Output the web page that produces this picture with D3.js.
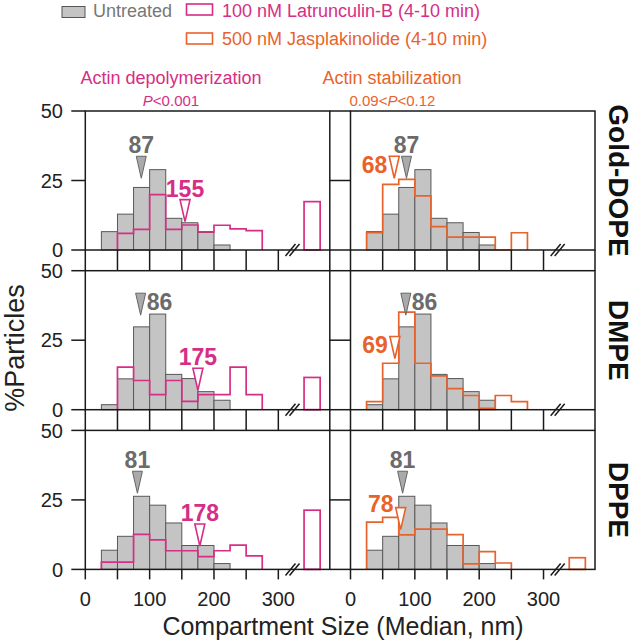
<!DOCTYPE html>
<html lang="en">
<head>
<meta charset="UTF-8">
<script src="https://cdnjs.cloudflare.com/ajax/libs/d3/7.9.0/d3.min.js"></script>
<title>Compartment size histograms</title>
<style>
  body { margin: 0; background: #fff; }
  svg { display: block; font-family: "Liberation Sans", Arial, sans-serif; }
</style>
</head>
<body>
<div id="chart"></div>
<script>
// bins are 25 nm wide, left edges below
const binStarts = [25, 50, 75, 100, 125, 150, 175, 200, 225, 250];
const lipids = ["Gold-DOPE", "DMPE", "DPPE"];

// % particles per bin
const untreatedGold = [6.6, 12.9, 22.5, 28.9, 11.4, 9.8, 6.3, 1.8, 0, 0];
const untreatedDMPE = [1.8, 11.1, 29.8, 34.4, 12.7, 11.2, 6.5, 3.4, 0, 0];
const untreatedDPPE = [6.9, 11.9, 26.3, 23.1, 16.7, 8.6, 8.6, 2.1, 0, 0];

const latrunculinGold = [0, 6.0, 7.4, 19.9, 7.4, 9.0, 6.5, 8.9, 7.6, 7.0];
const latrunculinDMPE = [0, 15.3, 10.5, 5.4, 10.5, 3.0, 5.4, 5.4, 15.3, 5.4];
const latrunculinDPPE = [2.6, 2.6, 12.6, 10.6, 6.7, 6.7, 4.6, 6.7, 8.7, 4.9];

const jasplakinolideGold = [6.2, 23.6, 25.4, 19.5, 8.4, 4.6, 4.6, 4.6, 0, 6.2];
const jasplakinolideDMPE = [2.9, 16.7, 35.1, 16.7, 12.2, 7.6, 5.1, 0.5, 5.1, 2.9];
const jasplakinolideDPPE = [17.0, 18.7, 12.4, 14.5, 14.5, 12.5, 2.0, 6.4, 2.3, 0];

// the bar past the axis break (> 300 nm)
const latrunculinOver = [17.4, 11.6, 21.3];
const jasplakinolideOver = [0, 0, 4.2];

// medians (nm) and the % level the arrow points at
const untreatedMedian = [87, 86, 81];
const latrunculinMedian = [155, 175, 178];
const jasplakinolideMedian = [68, 69, 78];
const untreatedLevel = [25.8, 34, 27.4];
const latrunculinLevel = [10.2, 7.0, 8.4];
const jasplakinolideLevel = [25.8, 18.4, 14.3];

const xTicks = [0, 50, 100, 150, 200, 250, 300];
const xLabels = [0, 100, 200, 300];
const yTicks = [0, 25, 50];

const untreated = [untreatedGold, untreatedDMPE, untreatedDPPE];
const latrunculin = [latrunculinGold, latrunculinDMPE, latrunculinDPPE];
const jasplakinolide = [jasplakinolideGold, jasplakinolideDMPE, jasplakinolideDPPE];

const PINK = "#d62e86";
const ORANGE = "#e8632c";
const GRAYTXT = "#6b6b6b";

const width = 633, height = 642;
const colX = [85.3, 350.5];
const panelW = 244.5;
const rowY = [111, 270.7, 430.4];
const panelH = 139;
const gap = rowY[1] - rowY[0] - panelH;

const svg = d3.select("#chart").append("svg")
  .attr("width", width).attr("height", height);

// legend
const legend = svg.append("g");
legend.append("rect").attr("x", 62).attr("y", 6.5).attr("width", 23).attr("height", 11)
  .attr("fill", "#c4c4c4").attr("stroke", "#555").attr("stroke-width", 1);
legend.append("text").attr("x", 93).attr("y", 17).attr("font-size", 18).attr("fill", "#777")
  .text("Untreated");
legend.append("rect").attr("x", 186.5).attr("y", 4).attr("width", 26).attr("height", 11)
  .attr("fill", "none").attr("stroke", PINK).attr("stroke-width", 1.6);
legend.append("text").attr("x", 222).attr("y", 17).attr("font-size", 18).attr("fill", PINK)
  .text("100 nM Latrunculin-B (4-10 min)");
legend.append("rect").attr("x", 186.5).attr("y", 33).attr("width", 26).attr("height", 11)
  .attr("fill", "none").attr("stroke", ORANGE).attr("stroke-width", 1.6);
legend.append("text").attr("x", 222).attr("y", 45).attr("font-size", 18).attr("fill", ORANGE)
  .text("500 nM Jasplakinolide (4-10 min)");

// column titles
svg.append("text").attr("x", 171).attr("y", 84).attr("text-anchor", "middle")
  .attr("font-size", 18).attr("fill", PINK).text("Actin depolymerization");
const p1 = svg.append("text").attr("x", 171).attr("y", 106).attr("text-anchor", "middle")
  .attr("font-size", 15).attr("fill", PINK);
p1.append("tspan").attr("font-style", "italic").text("P");
p1.append("tspan").text("<0.001");
svg.append("text").attr("x", 392).attr("y", 84).attr("text-anchor", "middle")
  .attr("font-size", 18).attr("fill", ORANGE).text("Actin stabilization");
const p2 = svg.append("text").attr("x", 392.5).attr("y", 106).attr("text-anchor", "middle")
  .attr("font-size", 15).attr("fill", ORANGE);
p2.append("tspan").text("0.09<");
p2.append("tspan").attr("font-style", "italic").text("P");
p2.append("tspan").text("<0.12");

// step outline for a treated histogram
function stepPath(vals, x, y) {
  let first = vals.findIndex(v => v > 0);
  let last = vals.length - 1;
  while (vals[last] === 0) last--;
  const p = d3.path();
  p.moveTo(x(binStarts[first]), y(0));
  for (let i = first; i <= last; i++) {
    p.lineTo(x(binStarts[i]), y(vals[i]));
    p.lineTo(x(binStarts[i] + 25), y(vals[i]));
  }
  p.lineTo(x(binStarts[last] + 25), y(0));
  return p.toString();
}

function marker(g, x, y, median, level, style, place, dy) {
  const tx = x(median), ty = y(level), top = ty - 22;
  g.append("path")
    .attr("d", `M${tx},${ty}L${tx - 5},${top}L${tx + 5},${top}Z`)
    .attr("fill", style.fill).attr("stroke", style.stroke)
    .attr("stroke-width", style.sw).attr("stroke-linejoin", "miter");
  const t = g.append("text").attr("font-size", 23).attr("font-weight", "bold")
    .attr("fill", style.text).text(median);
  if (place === "above") {
    t.attr("x", tx).attr("y", top - 3).attr("text-anchor", "middle");
  } else if (place === "right") {
    t.attr("x", tx + 6).attr("y", top + 16.5).attr("text-anchor", "start");
  } else {
    t.attr("x", tx - 7).attr("y", top + 16.5 + (dy || 0)).attr("text-anchor", "end");
  }
}

const grayStyle = { fill: "#aaaaaa", stroke: "#666", sw: 1, text: GRAYTXT };

lipids.forEach((lipid, r) => {
  [0, 1].forEach(c => {
    const x0 = colX[c], y0 = rowY[r];
    const x = d3.scaleLinear().domain([0, 380]).range([x0, x0 + panelW]);
    const y = d3.scaleLinear().domain([0, 50]).range([y0 + panelH, y0]);
    const g = svg.append("g");
    const color = c === 0 ? PINK : ORANGE;
    const treated = c === 0 ? latrunculin[r] : jasplakinolide[r];
    const over = c === 0 ? latrunculinOver[r] : jasplakinolideOver[r];

    // untreated bars
    g.selectAll("rect.bar").data(binStarts.map((b, i) => [b, untreated[r][i]]).filter(d => d[1] > 0))
      .join("rect").attr("class", "bar")
      .attr("x", d => x(d[0])).attr("width", d => x(d[0] + 25) - x(d[0]))
      .attr("y", d => y(d[1])).attr("height", d => y(0) - y(d[1]))
      .attr("fill", "#c4c4c4").attr("stroke", "#585858").attr("stroke-width", 1);

    // treated outline
    g.append("path").attr("d", stepPath(treated, x, y))
      .attr("fill", "none").attr("stroke", color).attr("stroke-width", 1.7);

    if (over > 0) {
      g.append("rect").attr("x", x(340)).attr("width", x(365) - x(340))
        .attr("y", y(over)).attr("height", y(0) - y(over))
        .attr("fill", "none").attr("stroke", color).attr("stroke-width", 1.7);
    }

    // frame
    g.append("rect").attr("x", x0).attr("y", y0).attr("width", panelW).attr("height", panelH)
      .attr("fill", "none").attr("stroke", "#1a1a1a").attr("stroke-width", 1.5);

    // y ticks
    const tickLen = c === 0 ? 14 : x0 - (colX[0] + panelW);
    g.selectAll("line.yt").data(yTicks).join("line").attr("class", "yt")
      .attr("x1", x0 - tickLen).attr("x2", x0)
      .attr("y1", d => y(d)).attr("y2", d => y(d))
      .attr("stroke", "#1a1a1a").attr("stroke-width", 1.5);
    if (c === 0) {
      g.selectAll("text.yl").data(yTicks).join("text").attr("class", "yl")
        .attr("x", 63).attr("y", d => y(d)).attr("dy", "0.36em")
        .attr("text-anchor", "end").attr("font-size", 20).attr("fill", "#222")
        .text(d => d);
    }

    // x ticks, spanning the gap between rows
    const xLen = r < 2 ? gap : 10;
    const edges = r < 2 ? xTicks.concat([380]) : xTicks;
    g.selectAll("line.xt").data(edges).join("line").attr("class", "xt")
      .attr("x1", d => x(d)).attr("x2", d => x(d))
      .attr("y1", y(0)).attr("y2", y(0) + xLen)
      .attr("stroke", "#1a1a1a").attr("stroke-width", 1.5);
    if (r === 2) {
      g.selectAll("text.xl").data(xLabels).join("text").attr("class", "xl")
        .attr("x", d => x(d)).attr("y", y(0) + 36.5)
        .attr("text-anchor", "middle").attr("font-size", 20).attr("fill", "#222")
        .text(d => d);
    }

    // axis break
    const bx = x(322), by = y(0);
    [-2, 2].forEach(o => {
      g.append("line")
        .attr("x1", bx + o - 5).attr("y1", by + 6)
        .attr("x2", bx + o + 5).attr("y2", by - 6)
        .attr("stroke", "#1a1a1a").attr("stroke-width", 1.5);
    });

    // median markers
    const grayPlace = r === 1 ? "right" : "above";
    marker(g, x, y, untreatedMedian[r], untreatedLevel[r], grayStyle, grayPlace);
    if (c === 0) {
      marker(g, x, y, latrunculinMedian[r], latrunculinLevel[r],
        { fill: "#fff", stroke: PINK, sw: 1.6, text: PINK }, "above");
    } else {
      marker(g, x, y, jasplakinolideMedian[r], jasplakinolideLevel[r],
        { fill: "#fff", stroke: ORANGE, sw: 1.6, text: ORANGE }, "left", r === 2 ? -12 : 0);
    }
  });

  // row label on the right
  const cy = rowY[r] + panelH / 2;
  svg.append("text").attr("transform", `translate(619,${cy}) rotate(90)`)
    .attr("text-anchor", "middle").attr("dy", "0.35em")
    .attr("font-size", 28).attr("font-weight", "bold").attr("fill", "#111")
    .text(lipid);
});

// axis titles
svg.append("text").attr("transform", "translate(24,348) rotate(-90)")
  .attr("text-anchor", "middle").attr("font-size", 27).attr("fill", "#222")
  .text("%Particles");
svg.append("text").attr("x", 343).attr("y", 635).attr("text-anchor", "middle")
  .attr("font-size", 25).attr("fill", "#222")
  .text("Compartment Size (Median, nm)");
</script>
</body>
</html>
